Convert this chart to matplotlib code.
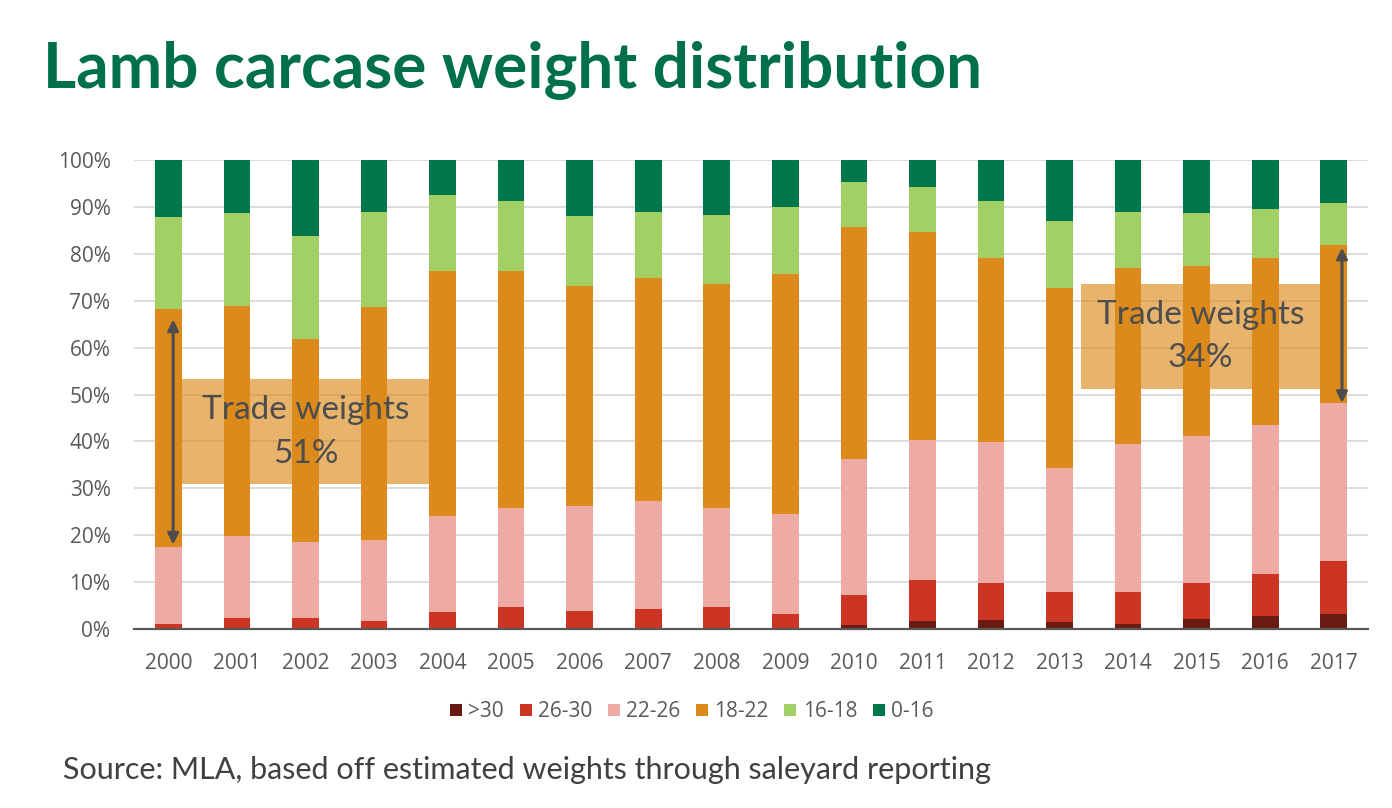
import numpy as np
import matplotlib.pyplot as plt
from matplotlib.patches import Rectangle

plt.rcParams['font.family'] = ['Lato', 'DejaVu Sans']

years = [str(y) for y in range(2000, 2018)]
groups = ['>30', '26-30', '22-26', '18-22', '16-18', '0-16']
colors = ['#6B1A12', '#CC3524', '#EEAAA5', '#DC8A1B', '#A2D065', '#00774A']

# share of lambs per weight group (%)
w_30plus = [0.1, 0.1, 0.1, 0.1, 0.1, 0.3, 0.1, 0.1, 0.3, 0.1, 0.9, 1.8, 2.0, 1.6, 1.1, 2.2, 2.8, 3.3]
w_26_30 = [1.0, 2.3, 2.3, 1.7, 3.6, 4.5, 3.8, 4.2, 4.5, 3.0, 6.4, 8.7, 7.9, 6.4, 6.7, 7.7, 9.0, 11.1]
w_22_26 = [16.3, 17.5, 16.2, 17.1, 20.3, 20.9, 22.4, 22.9, 20.9, 21.5, 28.9, 29.9, 29.9, 26.4, 31.6, 31.2, 31.6, 33.7]
w_18_22 = [50.8, 48.9, 43.2, 49.7, 52.3, 50.6, 46.8, 47.6, 47.8, 51.1, 49.5, 44.2, 39.3, 38.3, 37.5, 36.3, 35.7, 33.8]
w_16_18 = [19.6, 19.9, 22.0, 20.4, 16.2, 14.9, 14.9, 14.2, 14.8, 14.3, 9.6, 9.6, 12.1, 14.3, 12.0, 11.3, 10.4, 8.9]
w_0_16 = [12.2, 11.3, 16.2, 11.0, 7.5, 8.8, 12.0, 11.0, 11.7, 10.0, 4.7, 5.8, 8.8, 13.0, 11.1, 11.3, 10.5, 9.2]

series = [w_30plus, w_26_30, w_22_26, w_18_22, w_16_18, w_0_16]

fig = plt.figure(figsize=(13.92, 8.08), dpi=100)
ax = fig.add_axes([0.0963, 0.2215, 0.8865, 0.5805])

x = np.arange(len(years))
bottom = np.zeros(len(years))
for vals, lab, col in zip(series, groups, colors):
    vals = np.array(vals)
    ax.bar(x, vals, 0.39, bottom=bottom, color=col, label=lab, zorder=2)
    bottom += vals

tick_font = ['Open Sans', 'DejaVu Sans']
ax.set_xlim(-0.5, len(years) - 0.5)
ax.set_ylim(0, 100)
ax.set_yticks(np.arange(0, 101, 10))
ax.set_yticklabels([f'{v}%' for v in range(0, 101, 10)], family=tick_font)
ax.set_xticks(x)
ax.set_xticklabels(years, family=tick_font)
ax.tick_params(axis='both', length=0, labelsize=15, colors='#595959')
ax.tick_params(axis='x', pad=17)
ax.tick_params(axis='y', pad=17)
ax.grid(axis='y', color='#D9D9D9', linewidth=1.3, zorder=0)
for s in ['top', 'right', 'left']:
    ax.spines[s].set_visible(False)
ax.spines['bottom'].set_color('#595959')
ax.spines['bottom'].set_linewidth(1.6)
ax.spines['bottom'].set_zorder(3)

# trade weight boxes
box_col = '#DC8A1B'
ax.add_patch(Rectangle((0.196, 30.9), 3.6, 22.3, color=box_col, alpha=0.65, lw=0, zorder=3))
ax.add_patch(Rectangle((13.31, 51.1), 3.5, 22.4, color=box_col, alpha=0.65, lw=0, zorder=3))
ax.text(2.0, 42.0, 'Trade weights\n51%', ha='center', va='center', fontsize=24,
        color='#4D4D4D', linespacing=1.55, zorder=4)
ax.text(15.06, 62.3, 'Trade weights\n34%', ha='center', va='center', fontsize=24,
        color='#4D4D4D', linespacing=1.55, zorder=4)

arrow = dict(arrowstyle='<|-|>', color='#4D4D4D', lw=2.2, mutation_scale=16,
             shrinkA=0, shrinkB=0)
ax.annotate('', xy=(0.07, 66.0), xytext=(0.07, 18.0), arrowprops=arrow, zorder=5)
ax.annotate('', xy=(17.12, 81.3), xytext=(17.12, 48.2), arrowprops=arrow, zorder=5)

leg = fig.legend(loc='center', bbox_to_anchor=(0.497, 0.119), ncol=6, frameon=False,
                 prop={'family': tick_font, 'size': 15}, handlelength=0.58,
                 handleheight=0.58, handletextpad=0.3, columnspacing=0.75)
for t in leg.get_texts():
    t.set_color('#595959')

fig.text(0.031, 0.8927, 'Lamb carcase weight distribution', fontsize=46, fontweight='bold',
         color='#00704A', va='baseline')
fig.text(0.045, 0.047, 'Source: MLA, based off estimated weights through saleyard reporting',
         fontsize=22, color='#404040', va='center')

fig.savefig('out.png', dpi=100)
